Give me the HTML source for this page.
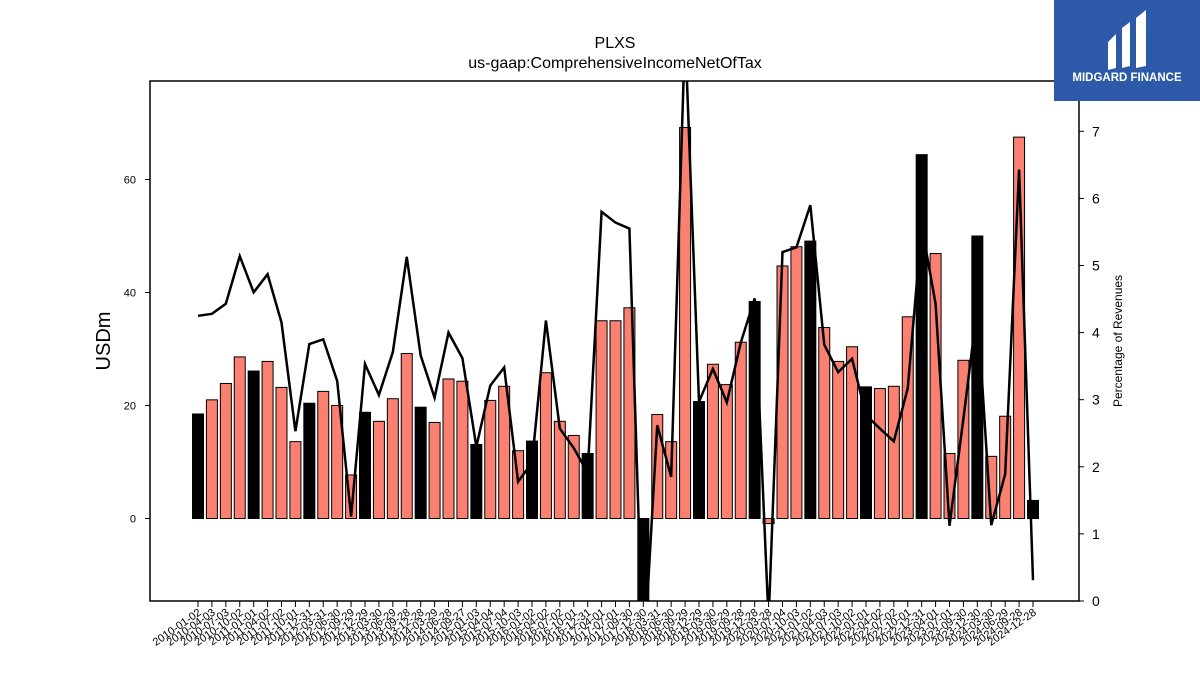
<!DOCTYPE html>
<html><head><meta charset="utf-8"><style>
body{margin:0;background:#fff;}
svg{display:block;font-family:"Liberation Sans",sans-serif;}
</style></head><body>
<svg id="chart" width="1200" height="675" viewBox="0 0 1200 675">
<rect x="0" y="0" width="1200" height="675" fill="#fff"/>
<text x="615" y="48" font-size="16" text-anchor="middle">PLXS</text>
<text x="615" y="68" font-size="16" text-anchor="middle">us-gaap:ComprehensiveIncomeNetOfTax</text>
<defs><clipPath id="pc"><rect x="150" y="81" width="929" height="520"/></clipPath></defs>
<g id="bars" clip-path="url(#pc)"></g>
<g id="line" clip-path="url(#pc)"></g>
<rect x="150" y="81" width="929" height="520" fill="none" stroke="#000" stroke-width="1.5"/>
<g id="yl"></g>
<g id="yr"></g>
<g id="xa"></g>
<text transform="translate(110,341) rotate(-90)" font-size="20" text-anchor="middle">USDm</text>
<text transform="translate(1122,341) rotate(-90)" font-size="12" text-anchor="middle">Percentage of Revenues</text>
<g>
<rect x="1054" y="0" width="146" height="101" fill="#2d5aa8"/>
<path d="M1108 42 L1116 34 L1116 68 L1108 70 Z M1122 28 L1130 22 L1130 66 L1122 68 Z M1136 18 L1146 10 L1146 66 L1136 68 Z" fill="#fff"/>
<text x="1127" y="81" font-size="11.5" font-weight="bold" fill="#fff" text-anchor="middle">MIDGARD FINANCE</text>
</g>
</svg>
<script>
const labels=["2010-01-02","2010-04-03","2010-07-03","2010-10-02","2011-01-01","2011-04-02","2011-07-02","2011-10-01","2011-12-31","2012-03-31","2012-06-30","2012-09-29","2012-12-29","2013-03-30","2013-06-29","2013-09-28","2013-12-28","2014-03-29","2014-06-28","2014-09-27","2015-01-03","2015-04-04","2015-07-04","2015-10-03","2016-01-02","2016-04-02","2016-07-02","2016-10-01","2016-12-31","2017-04-01","2017-07-01","2017-09-30","2017-12-30","2018-03-31","2018-06-30","2018-09-29","2018-12-29","2019-03-30","2019-06-29","2019-09-28","2019-12-28","2020-03-28","2020-07-04","2020-10-03","2021-01-02","2021-04-03","2021-07-03","2021-10-02","2022-01-01","2022-04-02","2022-07-02","2022-10-01","2022-12-31","2023-04-01","2023-07-01","2023-09-30","2023-12-30","2024-03-30","2024-06-29","2024-09-28","2024-12-28"];
const values=[18.5,21.0,23.9,28.6,26.1,27.8,23.2,13.6,20.4,22.5,20.0,7.7,18.8,17.2,21.2,29.2,19.7,17.0,24.7,24.3,13.1,20.9,23.4,12.0,13.7,25.8,17.2,14.7,11.5,35.0,35.0,37.3,-20,18.4,13.6,69.2,20.7,27.3,23.7,31.2,38.4,-0.9,44.7,48.1,49.1,33.8,27.8,30.4,23.3,23.0,23.4,35.7,64.4,46.9,11.5,28.0,50.0,11.0,18.1,67.5,3.2];
const ratio=[4.25,4.28,4.43,5.14,4.60,4.87,4.15,2.53,3.83,3.90,3.28,1.26,3.53,3.07,3.71,5.13,3.66,3.03,4.00,3.62,2.30,3.21,3.48,1.78,2.06,4.18,2.57,2.28,1.91,5.80,5.64,5.55,-1.0,2.62,1.85,8.5,2.97,3.46,2.96,3.85,4.51,-0.3,5.20,5.27,5.90,3.82,3.41,3.61,2.77,2.57,2.38,3.17,5.59,4.43,1.12,2.72,4.38,1.13,1.89,6.43,0.31];
const annual=[0,4,8,12,16,20,24,28,32,36,40,44,48,52,56,60];
const leftTicks=[0,20,40,60];
const rightTicks=[0,1,2,3,4,5,6,7];
const NS="http://www.w3.org/2000/svg";
const yL=v=>518.5-v*5.65;
const yR=v=>601-v*67.1;
const xC=i=>198+i*(835/(labels.length-1));
const bw=11;
function mk(t,a,p){const e=document.createElementNS(NS,t);for(const k in a)e.setAttribute(k,a[k]);p.appendChild(e);return e;}
const gb=document.getElementById('bars');
values.forEach((v,i)=>{
 const isA=annual.includes(i);
 const y0=yL(0),y1=yL(v);
 const r=mk('rect',{x:xC(i)-bw/2,y:Math.min(y0,y1),width:bw,height:Math.abs(y1-y0),fill:isA?'#000':'#fa8072',stroke:'#000','stroke-width':1},gb);
 
 
});
const gl=document.getElementById('line');
const pl=mk('polyline',{points:ratio.map((v,i)=>xC(i)+','+yR(v)).join(' '),fill:'none',stroke:'#000','stroke-width':2.5,'stroke-linejoin':'miter'},gl);


const gy=document.getElementById('yl');
leftTicks.forEach(t=>{
 const l=mk('line',{x1:145,x2:150,y1:yL(t),y2:yL(t),stroke:'#000'},gy);
 
 
 const tx=mk('text',{x:136,y:yL(t)+4,'font-size':11,'text-anchor':'end'},gy);
 tx.textContent=t;
 
 
});
const gr=document.getElementById('yr');
rightTicks.forEach(t=>{
 const l=mk('line',{x1:1079,x2:1084,y1:yR(t),y2:yR(t),stroke:'#000'},gr);
 
 
 const tx=mk('text',{x:1092,y:yR(t)+5,'font-size':14},gr);
 tx.textContent=t;
 
 
});
const gx=document.getElementById('xa');
labels.forEach((s,i)=>{
 const x=xC(i);
 const l=mk('line',{x1:x,x2:x,y1:601,y2:607,stroke:'#000'},gx);
 
 
 const tx=mk('text',{transform:`translate(${x+4},${614}) rotate(-35)`,'font-size':11,'text-anchor':'end'},gx);
 tx.textContent=s;
 
 
});
</script>
</body></html>
